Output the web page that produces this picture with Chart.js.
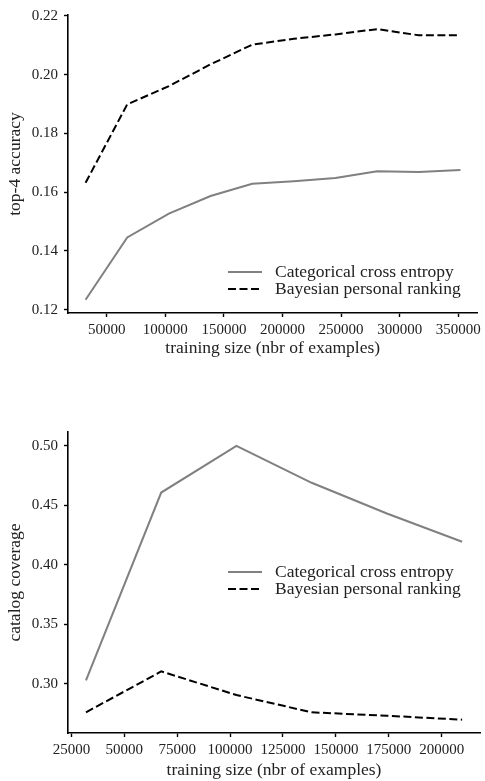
<!DOCTYPE html>
<html>
<head>
<meta charset="utf-8">
<script src="https://cdn.jsdelivr.net/npm/chart.js@4/dist/chart.umd.min.js"></script>
<style>
  html, body { margin: 0; padding: 0; background: #fff; }
  .box { width: 485px; position: relative; }
</style>
</head>
<body>
<div class="box" style="height:390px"><canvas id="accChart" width="485" height="390"></canvas></div>
<div class="box" style="height:391px"><canvas id="covChart" width="485" height="391"></canvas></div>
<script>
// training sizes (nbr of examples)
var trainingSizes = [31900, 67450, 103000, 138550, 174100, 209650, 245200, 280750, 316300, 351850];
var coverageSizes = [31900, 67450, 103000, 138550, 174100, 209650];

// top-4 accuracy
var accCCE = [0.1234, 0.1446, 0.1527, 0.1587, 0.1629, 0.1637, 0.1648, 0.1671, 0.1669, 0.1676];
var accBPR = [0.1632, 0.1899, 0.1961, 0.2035, 0.2102, 0.2122, 0.2137, 0.2155, 0.2134, 0.2134];

// catalog coverage
var covCCE = [0.3028, 0.4608, 0.5000, 0.4690, 0.4432, 0.4194];
var covBPR = [0.2760, 0.3104, 0.2905, 0.2760, 0.2731, 0.2698];

// tick values
var accXTicks = [50000, 100000, 150000, 200000, 250000, 300000, 350000];
var accYTicks = [0.12, 0.14, 0.16, 0.18, 0.20, 0.22];
var covXTicks = [25000, 50000, 75000, 100000, 125000, 150000, 175000, 200000];
var covYTicks = [0.30, 0.35, 0.40, 0.45, 0.50];

var serif = '"Liberation Serif", "Times New Roman", serif';
var textColor = '#222';

function pts(xs, ys) {
	var out = [];
	for (var i in ys) out.push({ x: xs[i], y: ys[i] });
	return out;
}

function fixTicks(values) {
	return function (scale) {
		scale.ticks = values.map(function (v) { return { value: v }; });
	};
}

// legend drawn inside the plot area
var insideLegend = {
	id: 'insideLegend',
	afterDraw: function (chart, args, opts) {
		var ctx = chart.ctx;
		ctx.save();
		ctx.font = '17.5px ' + serif;
		ctx.textBaseline = 'middle';
		chart.data.datasets.forEach(function (ds, i) {
			var y = opts.y + i * 17;
			ctx.strokeStyle = ds.borderColor;
			ctx.lineWidth = ds.borderWidth;
			ctx.setLineDash(ds.borderDash || []);
			ctx.beginPath();
			ctx.moveTo(opts.x, y);
			ctx.lineTo(opts.x + 34, y);
			ctx.stroke();
			ctx.setLineDash([]);
			ctx.fillStyle = textColor;
			ctx.fillText(ds.label, opts.x + 47, y);
		});
		ctx.restore();
	}
};

function makeChart(id, xs, cce, bpr, cfg) {
	var chartdata = {
		datasets: [
			{
				label: 'Categorical cross entropy',
				borderColor: '#808080',
				borderWidth: 2,
				pointRadius: 0,
				fill: false,
				data: pts(xs, cce)
			},
			{
				label: 'Bayesian personal ranking',
				borderColor: '#000000',
				borderWidth: 2,
				borderDash: [8, 3.5],
				pointRadius: 0,
				fill: false,
				data: pts(xs, bpr)
			}
		]
	};

	return new Chart(document.getElementById(id), {
		type: 'line',
		data: chartdata,
		plugins: [insideLegend],
		options: {
			responsive: false,
			animation: false,
			layout: { padding: { top: cfg.padTop, right: 5, bottom: 0, left: 0 } },
			plugins: {
				legend: { display: false },
				tooltip: { enabled: false },
				insideLegend: cfg.legend
			},
			scales: {
				x: {
					type: 'linear',
					min: cfg.xMin,
					max: cfg.xMax,
					afterBuildTicks: fixTicks(cfg.xTicks),
					afterFit: function (s) { s.height = cfg.xAxisH; },
					border: { display: true, color: '#000', width: 1.6 },
					grid: { drawOnChartArea: false, drawTicks: true, tickLength: 4, tickWidth: 1.4, tickColor: '#000' },
					ticks: {
						maxRotation: 0,
						autoSkip: false,
						padding: 4,
						color: textColor,
						font: { family: serif, size: 15 },
						callback: function (v) { return String(v); }
					},
					title: {
						display: true,
						text: 'training size (nbr of examples)',
						color: textColor,
						font: { family: serif, size: 17.5 },
						padding: { top: 0, bottom: cfg.xTitlePad }
					}
				},
				y: {
					min: cfg.yMin,
					max: cfg.yMax,
					afterBuildTicks: fixTicks(cfg.yTicks),
					afterFit: function (s) { s.width = 68; },
					border: { display: true, color: '#000', width: 1.6 },
					grid: { drawOnChartArea: false, drawTicks: true, tickLength: 4, tickWidth: 1.4, tickColor: '#000' },
					ticks: {
						padding: 6,
						color: textColor,
						font: { family: serif, size: 15 },
						callback: function (v) { return v.toFixed(2); }
					},
					title: {
						display: true,
						text: cfg.yTitle,
						color: textColor,
						font: { family: serif, size: 17.5 },
						padding: { top: 4.5, bottom: 0 }
					}
				}
			}
		}
	});
}

makeChart('accChart', trainingSizes, accCCE, accBPR, {
	padTop: 15, xAxisH: 77, xTitlePad: 31,
	xMin: 16900, xMax: 366400, xTicks: accXTicks,
	yMin: 0.1189, yMax: 0.2203, yTicks: accYTicks,
	yTitle: 'top-4 accuracy',
	legend: { x: 228, y: 272 }
});

makeChart('covChart', coverageSizes, covCCE, covBPR, {
	padTop: 42, xAxisH: 48, xTitlePad: 0.5,
	xMin: 23400, xMax: 218100, xTicks: covXTicks,
	yMin: 0.2586, yMax: 0.5117, yTicks: covYTicks,
	yTitle: 'catalog coverage',
	legend: { x: 228, y: 182 }
});
</script>
</body>
</html>
